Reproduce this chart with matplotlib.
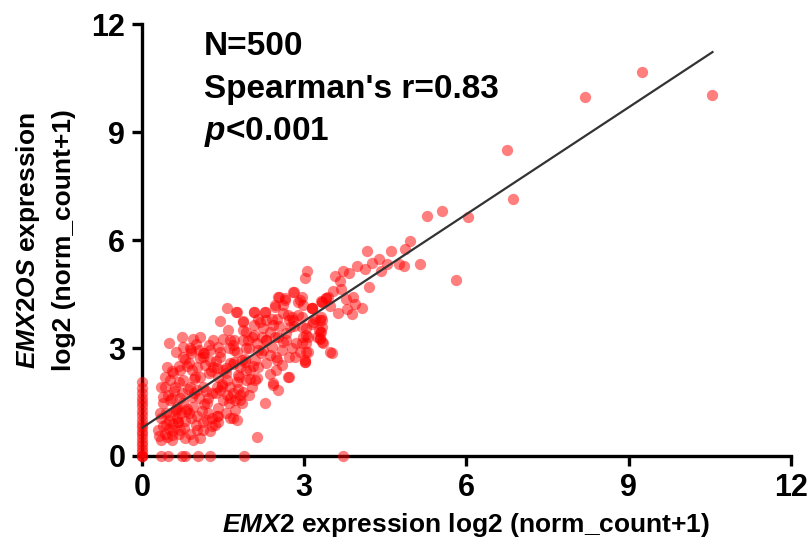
import numpy as np
import matplotlib
matplotlib.use('Agg')
import matplotlib.pyplot as plt

plt.rcParams['font.family'] = ['Liberation Sans', 'DejaVu Sans']
plt.rcParams['font.weight'] = 'bold'
plt.rcParams['mathtext.fontset'] = 'custom'
plt.rcParams['mathtext.it'] = 'Liberation Sans:italic:bold'
plt.rcParams['mathtext.rm'] = 'Liberation Sans:bold'

# 读图估计的散点 (EMX2, EMX2OS)
# x=0 一列
col0_y = [2.05, 1.9, 1.75, 1.6, 1.5, 1.4, 1.25, 1.15, 1.0, 0.9, 0.8, 0.7,
          0.6, 0.5, 0.4, 0.3, 0.2, 0.1, 0.0, 0.0, 0.0]
# y=0 一行
row0_x = [0.35, 0.48, 0.74, 0.8, 1.03, 1.26, 1.89, 3.72]

emx2 = [
    6.75, 6.87, 8.2, 9.24, 10.55,
    5.27, 5.55, 6.03, 5.8, 5.14, 4.95, 4.86, 4.6, 4.38, 4.16, 4.25, 4.75, 4.84,
    4.53, 4.42, 4.12, 3.97, 4.2, 3.83, 3.72, 3.57, 3.66, 3.68, 3.53, 3.44, 3.05,
    3.01, 3.9, 3.77, 3.94, 4.07, 3.8, 3.88, 3.62, 3.47, 3.31, 3.14, 3.31, 3.16,
    3.33, 3.31, 3.29, 3.35, 3.07, 3.07, 3.51, 3.01,
    1.57, 1.74, 1.44, 1.59, 1.87, 2.07, 2.27, 2.46, 2.52, 2.64, 2.81, 2.61, 2.92,
    2.98, 3.14, 3.32, 3.41, 2.15, 2.30, 2.43, 2.49, 2.70, 2.80, 2.89, 2.74, 2.95,
    3.04, 3.2, 3.32, 3.29, 3.32, 3.23, 2.95, 2.92, 3.01, 3.47,
    0.73, 0.94, 1.07, 0.49, 0.76, 0.89, 1.23, 1.26, 1.32, 1.41, 1.5, 1.63, 1.69,
    1.6, 1.75, 1.87, 1.93, 2.03, 2.12, 1.97, 2.21, 2.3, 2.36, 2.52, 2.61, 2.67,
    2.24, 2.36, 2.09, 2.15, 2.3, 2.49, 2.58, 2.71, 2.43, 2.27, 2.12,
    1.84, 1.93, 1.81, 1.63, 1.5, 1.41, 1.57, 1.75, 1.87, 1.69, 1.81, 1.6, 1.72,
    1.63, 1.75, 1.38, 1.35, 1.2, 1.29, 1.44, 1.13, 1.01, 0.89, 1.07, 1.23, 1.32,
    1.16, 1.01, 0.86, 0.76, 1.07, 0.92, 0.7, 0.58, 0.46, 0.52, 0.43, 0.61, 0.76,
    0.73, 0.39, 0.52, 0.64, 0.76, 0.92, 0.95, 0.86, 1.01, 1.1, 1.2, 0.8, 0.64,
    0.49, 0.39, 0.58, 0.36, 0.46, 0.55, 0.8, 0.95, 1.07, 1.01, 1.13, 1.29, 1.41,
    1.5, 1.57, 1.38, 1.93, 2.03, 2.12, 1.97, 1.63, 0.7, 0.3, 0.33, 0.39, 0.36,
    2.54, 2.79, 2.64, 2.89, 2.95, 2.46, 3.14, 3.32, 3.41, 1.75, 2.07, 2.27, 2.6,
    2.77, 2.95, 2.4, 1.87, 2.18, 1.87, 2.08, 2.23, 2.54, 2.72, 2.81, 3.03, 3.15,
    3.3, 3.27, 3.3, 2.98, 3.04, 2.85, 2.67, 2.45, 2.3, 2.08, 1.96, 1.71, 1.71,
    1.93, 2.15, 2.4, 2.58, 2.77, 3.04, 2.82, 2.48,
    2.7, 2.43, 2.52, 3.01, 2.71, 2.0, 2.09, 1.81, 1.84, 1.72, 1.69,
    2.48, 2.36,
    0.55, 0.68, 0.83, 0.98, 1.12, 1.28, 1.45, 0.62, 0.9, 1.18, 1.36, 1.55, 1.7,
    1.05, 1.22, 1.48, 0.82, 0.66, 1.9, 2.05, 2.2, 1.78, 1.4, 1.15, 0.97, 0.45,
    0.32, 0.42, 0.5, 0.58, 0.66, 0.44, 0.35, 0.52, 0.62, 0.72, 0.84, 0.9, 0.78,
    0.68, 0.56, 0.88, 1.0, 1.12, 1.22, 1.3, 1.15, 1.05, 0.96, 0.85, 0.7, 0.6,
    0.48, 0.42, 0.55, 0.68, 0.8, 0.62, 0.9, 1.0, 1.12, 1.25, 1.38, 1.45, 1.55,
    1.68, 1.8, 1.9, 2.0, 1.36, 1.48, 1.62, 1.78, 1.25, 1.4, 1.55,
]
emx2os = [
    8.5, 7.14, 9.97, 10.67, 10.03,
    6.67, 6.8, 6.64, 4.89, 5.33, 5.97, 5.75, 5.69, 5.47, 5.69, 5.36, 5.33, 5.28,
    5.33, 5.14, 5.19, 5.28, 4.69, 5.08, 5.14, 5.0, 4.86, 4.64, 4.58, 4.42, 5.14,
    4.94, 4.42, 4.36, 4.22, 4.11, 4.08, 3.94, 3.97, 4.17, 4.3, 4.11, 3.86, 3.72,
    3.58, 3.44, 3.28, 3.14, 3.31, 2.89, 2.86, 2.61,
    4.10, 4.01, 3.74, 3.51, 3.74, 3.99, 4.01, 4.15, 4.43, 4.38, 4.57, 4.19, 4.33,
    4.19, 4.1, 4.29, 4.38, 3.82, 3.78, 3.64, 3.82, 3.92, 3.78, 3.92, 3.59, 3.59,
    3.36, 3.82, 3.78, 3.45, 3.18, 3.31, 3.13, 2.9, 2.67, 2.9,
    3.31, 3.26, 3.31, 3.13, 3.04, 2.99, 3.08, 2.95, 3.22, 3.04, 3.26, 3.22, 3.08,
    2.99, 2.9, 3.22, 3.45, 3.31, 3.13, 2.99, 3.31, 3.22, 3.45, 3.31, 3.18, 3.41,
    2.95, 2.81, 2.67, 2.48, 2.57, 2.67, 2.53, 2.2, 2.02, 1.47, 0.54,
    2.67, 2.39, 2.48, 2.57, 2.39, 2.2, 2.11, 2.06, 1.79, 1.74, 1.56, 1.47, 1.28,
    1.05, 1.0, 1.1, 0.86, 1.47, 1.74, 1.83, 1.93, 1.83, 1.93, 2.2, 2.3, 2.48,
    2.53, 2.48, 2.57, 2.76, 2.71, 2.39, 2.39, 2.3, 2.48, 2.11, 1.93, 1.93, 2.11,
    1.74, 1.65, 1.56, 1.37, 1.47, 1.65, 1.37, 1.19, 1.1, 1.24, 1.0, 0.96, 1.05,
    1.0, 0.82, 0.72, 0.45, 0.54, 0.58, 0.49, 0.45, 0.49, 0.72, 0.72, 0.82, 1.33,
    1.56, 1.7, 1.93, 2.11, 1.93, 2.16, 1.7, 1.93, 0.72, 0.72, 1.19, 1.47, 1.93,
    4.43, 4.56, 4.33, 4.29, 4.43, 4.19, 4.1, 4.29, 4.38, 4.01, 4.01, 4.01, 3.96,
    3.87, 3.87, 3.82, 3.73, 3.73, 3.5, 3.64, 3.56, 3.6, 3.78, 3.6, 3.56, 3.68,
    3.78, 3.5, 3.26, 3.31, 3.13, 3.13, 3.22, 3.31, 3.22, 3.36, 3.22, 3.22, 2.94,
    2.99, 2.94, 3.04, 2.94, 2.99, 2.9, 2.76, 2.76,
    2.2, 1.97, 1.83, 2.62, 2.76, 2.14, 2.11, 1.69, 1.46, 1.56, 1.05,
    2.38, 2.29,
    1.6, 2.05, 2.5, 2.2, 2.75, 2.35, 2.9, 1.3, 2.85, 1.8, 2.65, 2.45, 2.6,
    2.95, 1.6, 2.0, 1.25, 0.95, 2.7, 2.5, 2.85, 2.25, 1.1, 2.85, 2.15, 1.2,
    0.55, 0.62, 0.75, 0.88, 0.95, 0.9, 1.05, 1.15, 1.25, 1.2, 1.3, 1.05, 0.78,
    0.6, 0.45, 0.62, 0.85, 0.95, 1.2, 1.05, 1.45, 1.6, 1.75, 1.85, 1.6, 1.8,
    1.7, 2.2, 2.35, 2.5, 2.7, 2.9, 2.95, 3.1, 2.85, 2.65, 2.45, 2.75, 2.3,
    2.55, 2.2, 2.6, 2.4, 1.75, 1.95, 1.6, 1.85, 0.7, 0.95, 1.2,
]

# 图中拟合线 (读图: 截距约0.78, 斜率约0.99)
fit_intercept = 0.78
fit_slope = 0.99

x = np.array(list(np.zeros(len(col0_y))) + row0_x + emx2)
y = np.array(col0_y + list(np.zeros(len(row0_x))) + emx2os)

fig = plt.figure(figsize=(8.07, 5.5), dpi=100)
ax = fig.add_axes([0.176, 0.171, 0.804, 0.785])

ax.scatter(x, y, s=66, c='#FF0000', alpha=0.5, linewidths=0,
           clip_on=False, zorder=3)

xl = np.array([0, x.max()])
ax.plot(xl, fit_slope * xl + fit_intercept, color='#333333', lw=1.6, zorder=4)

ax.set_xlim(0, 12)
ax.set_ylim(0, 12)
ax.set_xticks([0, 3, 6, 9, 12])
ax.set_yticks([0, 3, 6, 9, 12])
for s in ['top', 'right']:
    ax.spines[s].set_visible(False)
for s in ['left', 'bottom']:
    ax.spines[s].set_linewidth(2.4)
ax.tick_params(width=2.4, length=7, labelsize=22, pad=5)
for lab in ax.get_xticklabels() + ax.get_yticklabels():
    lab.set_fontweight('bold')

ax.set_xlabel(r'$\mathit{EMX2}$ expression log2 (norm_count+1)',
              fontsize=19, fontweight='bold', labelpad=6)
ax.set_ylabel('$\\mathit{EMX2OS}$ expression\nlog2 (norm_count+1)',
              fontsize=19, fontweight='bold', labelpad=11, linespacing=1.55)

ax.text(1.15, 11.14, 'N=500', fontsize=24, fontweight='bold', va='baseline')
ax.text(1.15, 9.94, "Spearman's r=0.83", fontsize=24, fontweight='bold',
        va='baseline')
ax.text(1.15, 8.78, r'$\mathit{p}$<0.001', fontsize=24, fontweight='bold',
        va='baseline')

plt.savefig('out.png', dpi=100)
